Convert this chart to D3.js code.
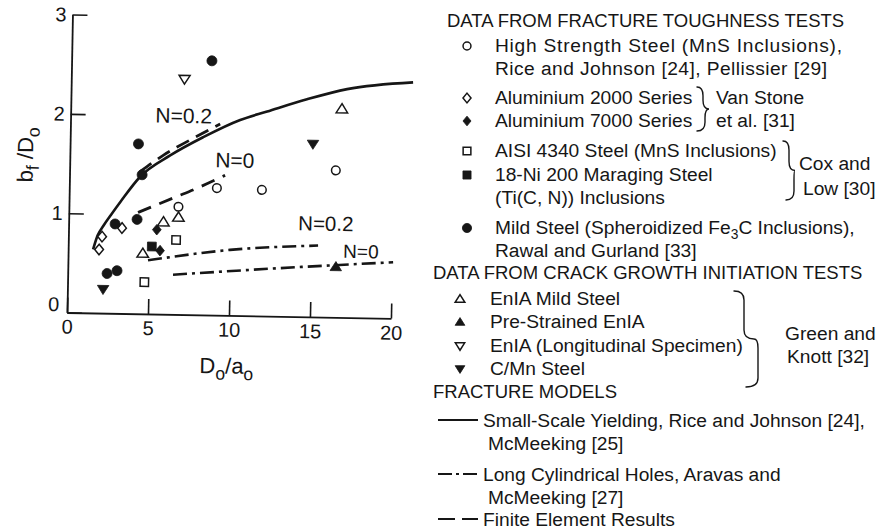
<!DOCTYPE html>
<html>
<head>
<meta charset="utf-8">
<script src="https://cdn.jsdelivr.net/npm/d3@7"></script>
<style>
  html, body { margin: 0; padding: 0; background: #fff; }
  svg { display: block; font-family: "Liberation Sans", Arial, Helvetica, sans-serif; }
</style>
</head>
<body>
<svg id="chart" width="881" height="532"></svg>
<script>
// ---- Data: void growth ratio b_f/D_o against D_o/a_o ----
const xTicks = [0, 5, 10, 15, 20];
const yTicks = [0, 1, 2, 3];

// Fracture toughness tests
const highStrengthX = [6.76, 9.11, 11.89, 16.43];
const highStrengthY = [1.085, 1.28, 1.27, 1.48];
const al2000X = [1.91, 2.08, 3.30];
const al2000Y = [0.64, 0.77, 0.86];
const al7000X = [5.45, 5.67];
const al7000Y = [0.85, 0.64];
const aisi4340X = [4.74, 6.65];
const aisi4340Y = [0.32, 0.75];
const maragingX = [5.16];
const maragingY = [0.68];
const mildSteelX = [2.43, 3.04, 2.87, 4.22, 4.48, 4.22, 8.66];
const mildSteelY = [0.40, 0.43, 0.90, 0.95, 1.40, 1.71, 2.56];

// Crack growth initiation tests
const en1aX = [4.61, 5.85, 6.77, 16.74];
const en1aY = [0.61, 0.93, 0.98, 2.10];
const preStrainedX = [16.54];
const preStrainedY = [0.51];
const longitudinalX = [6.99];
const longitudinalY = [2.37];
const cmnX = [2.20, 14.99];
const cmnY = [0.24, 1.74];

// Fracture models
const ssyX = [1.54, 1.80, 2.15, 2.60, 3.20, 4.36, 6.19, 8.21, 10.47, 12.13, 14.57, 17.04, 21.1];
const ssyY = [0.64, 0.78, 0.88, 0.99, 1.13, 1.38, 1.60, 1.79, 1.97, 2.06, 2.19, 2.30, 2.38];
const feN02X = [4.35, 5.76, 7.41, 9.24];
const feN02Y = [1.43, 1.60, 1.76, 1.925];
const feN0X = [4.27, 6.54, 7.95, 9.60];
const feN0Y = [1.02, 1.18, 1.28, 1.41];
const holesN02X = [4.94, 9.99, 15.42];
const holesN02Y = [0.54, 0.66, 0.72];
const holesN0X = [6.50, 13.1, 20.07];
const holesN0Y = [0.40, 0.486, 0.566];

// Texts
const xTitle = "D_{o}/a_{o}";
const yTitle = "b_{f} /D_{o}";
const heading1 = "DATA FROM FRACTURE TOUGHNESS TESTS";
const heading2 = "DATA FROM CRACK GROWTH INITIATION TESTS";
const heading3 = "FRACTURE MODELS";
const toughnessLabels = [
  ["High Strength Steel (MnS Inclusions),", "Rice and Johnson [24], Pellissier [29]"],
  ["Aluminium 2000 Series"],
  ["Aluminium 7000 Series"],
  ["AISI 4340 Steel (MnS Inclusions)"],
  ["18-Ni 200 Maraging Steel", "(Ti(C, N)) Inclusions"],
  ["Mild Steel (Spheroidized Fe_{3}C Inclusions),", "Rawal and Gurland [33]"]
];
const vanStone = ["Van Stone", "et al. [31]"];
const coxLow = ["Cox and", "Low [30]"];
const crackLabels = ["EnIA Mild Steel", "Pre-Strained EnIA", "EnIA (Longitudinal Specimen)", "C/Mn Steel"];
const greenKnott = ["Green and", "Knott [32]"];
const modelLabels = [
  ["Small-Scale Yielding, Rice and Johnson [24],", "McMeeking [25]"],
  ["Long Cylindrical Holes, Aravas and", "McMeeking [27]"],
  ["Finite Element Results"]
];
const curveTags = ["N=0.2", "N=0", "N=0.2", "N=0"];

// ---- Drawing ----
const INK = "#161616";
const svg = d3.select("#chart");
svg.append("rect").attr("width", 881).attr("height", 532).attr("fill", "#fff");

const ox = 67, oy = 312.5;
const x = d3.scaleLinear().domain([0, 20]).range([ox, ox + 324]);
const y = d3.scaleLinear().domain([0, 3]).range([oy, oy - 298]);

// marker shapes (size = half extent in px)
const shapes = {
  circle:   { draw(c, s) { c.moveTo(s, 0); c.arc(0, 0, s, 0, 2 * Math.PI); c.closePath(); } },
  diamond:  { draw(c, s) { c.moveTo(0, -s * 1.15); c.lineTo(s * 0.95, 0); c.lineTo(0, s * 1.15); c.lineTo(-s * 0.95, 0); c.closePath(); } },
  square:   { draw(c, s) { c.rect(-s, -s, 2 * s, 2 * s); } },
  triUp:    { draw(c, s) { c.moveTo(0, -s); c.lineTo(s * 1.1, s * 0.75); c.lineTo(-s * 1.1, s * 0.75); c.closePath(); } },
  triDown:  { draw(c, s) { c.moveTo(0, s); c.lineTo(s * 1.1, -s * 0.75); c.lineTo(-s * 1.1, -s * 0.75); c.closePath(); } }
};
const symbol = d3.symbol();

const series = [
  { xs: highStrengthX, ys: highStrengthY, shape: "circle", filled: false, r: 4.3 },
  { xs: al2000X, ys: al2000Y, shape: "diamond", filled: false, r: 4.6 },
  { xs: al7000X, ys: al7000Y, shape: "diamond", filled: true, r: 4.6 },
  { xs: aisi4340X, ys: aisi4340Y, shape: "square", filled: false, r: 4.2 },
  { xs: maragingX, ys: maragingY, shape: "square", filled: true, r: 4.4 },
  { xs: mildSteelX, ys: mildSteelY, shape: "circle", filled: true, r: 5 },
  { xs: en1aX, ys: en1aY, shape: "triUp", filled: false, r: 5.2 },
  { xs: preStrainedX, ys: preStrainedY, shape: "triUp", filled: true, r: 5.2 },
  { xs: longitudinalX, ys: longitudinalY, shape: "triDown", filled: false, r: 5 },
  { xs: cmnX, ys: cmnY, shape: "triDown", filled: true, r: 5.2 }
];

function styleMarker(sel, s) {
  sel.attr("fill", s.filled ? INK : "#fff")
     .attr("stroke", INK)
     .attr("stroke-width", s.filled ? 0.8 : 1.5)
     .attr("stroke-linejoin", "miter");
}

function richText(sel, str, fs, subScale) {
  const k = subScale || 0.72;
  const parts = str.split(/(_\{[^}]*\})/).filter(p => p.length);
  let shifted = false;
  parts.forEach(p => {
    if (p.startsWith("_{")) {
      sel.append("tspan").attr("font-size", fs * k).attr("dy", fs * 0.28).text(p.slice(2, -1));
      shifted = true;
    } else {
      const t = sel.append("tspan").text(p);
      if (shifted) { t.attr("dy", -fs * 0.28); shifted = false; }
    }
  });
  return sel;
}

function label(g, str, px, cy, fs, anchor, width) {
  const t = g.append("text")
    .attr("x", px).attr("y", cy + fs * 0.36)
    .attr("font-size", fs).attr("fill", INK)
    .attr("text-anchor", anchor || "start");
  if (width) t.attr("textLength", width).attr("lengthAdjust", "spacing");
  richText(t, str, fs);
  return t;
}

// ---- plot panel (slightly tilted, as printed) ----
const plot = svg.append("g").attr("transform", `rotate(1.05 ${ox} ${oy})`);

const xAxis = d3.axisBottom(x).tickValues(xTicks).tickFormat(d3.format("d"))
  .tickSizeInner(-15).tickSizeOuter(0).tickPadding(7);
const yAxis = d3.axisLeft(y).tickValues(yTicks).tickFormat(d3.format("d"))
  .tickSizeInner(-15).tickSizeOuter(0).tickPadding(6);

const gx = plot.append("g").attr("transform", `translate(0,${oy})`).call(xAxis);
const gy = plot.append("g").attr("transform", `translate(${ox},0)`).call(yAxis);
[gx, gy].forEach(g => {
  g.attr("font-family", null).attr("font-size", 20);
  g.select(".domain").attr("stroke", INK).attr("stroke-width", 1.8);
  g.selectAll(".tick line").attr("stroke", INK).attr("stroke-width", 1.6);
  g.selectAll(".tick text").attr("fill", INK);
});
gy.selectAll(".tick text").filter(d => d === 0).attr("dy", "-0.08em").attr("x", -8);

// axis titles
const xt = plot.append("text")
  .attr("x", x(9.9)).attr("y", oy + 58)
  .attr("font-size", 22).attr("fill", INK).attr("text-anchor", "middle");
richText(xt, xTitle, 22, 0.8);
const yt = plot.append("text")
  .attr("transform", `translate(${ox - 37},${y(1.58)}) rotate(-90)`)
  .attr("font-size", 22).attr("fill", INK).attr("text-anchor", "middle");
richText(yt, yTitle, 22, 0.8);

// model curves
const line = d3.line().x(d => x(d[0])).y(d => y(d[1]));
function curve(xs, ys, dash, width, kind) {
  const pts = xs.map((v, i) => [v, ys[i]]);
  plot.append("path")
    .attr("d", line.curve(kind)(pts))
    .attr("fill", "none").attr("stroke", INK)
    .attr("stroke-width", width)
    .attr("stroke-dasharray", dash)
    .attr("stroke-linecap", "butt");
}
curve(ssyX, ssyY, null, 2.6, d3.curveMonotoneX);
curve(feN02X, feN02Y, "14 8", 2.8, d3.curveMonotoneX);
curve(feN0X, feN0Y, "14 9", 2.8, d3.curveMonotoneX);
curve(holesN02X, holesN02Y, "14 5 3 5", 2.6, d3.curveMonotoneX);
curve(holesN0X, holesN0Y, "14 5 3 5", 2.6, d3.curveMonotoneX);

// data markers
series.forEach(s => {
  plot.append("g").selectAll("path")
    .data(s.xs.map((v, i) => [v, s.ys[i]]))
    .join("path")
    .attr("transform", d => `translate(${x(d[0])},${y(d[1])})`)
    .attr("d", symbol.type(shapes[s.shape]).size(s.r)())
    .call(styleMarker, s);
});

// curve tags
label(plot, curveTags[0], x(5.23), y(1.93) - 7.5, 21);
label(plot, curveTags[1], x(8.98), y(1.49) - 7.5, 21);
label(plot, curveTags[2], x(14.17), y(0.87) - 7.5, 20.5);
label(plot, curveTags[3], x(16.98), y(0.60) - 7, 19);

// ---- legend ----
const lg = svg.append("g");
const BODY = 19.2, HEAD = 18.5;

label(lg, heading1, 447, 20, HEAD);
const tRows = [[45, 68], [97], [120], [150], [174, 197], [227, 250]];
const tWidths = [[347, 332], [null], [null], [null], [null, null], [null, null]];
toughnessLabels.forEach((lines, i) => {
  const s = series[i];
  lg.append("path")
    .attr("transform", `translate(467,${tRows[i][0] + 1})`)
    .attr("d", symbol.type(shapes[s.shape]).size(s.r * 0.92)())
    .call(styleMarker, s);
  lines.forEach((ln, j) => label(lg, ln, 495, tRows[i][j], BODY, "start", tWidths[i][j]));
});

label(lg, heading2, 433, 272, HEAD);
const cRows = [298, 321, 345, 368];
crackLabels.forEach((ln, i) => {
  const s = series[6 + i];
  lg.append("path")
    .attr("transform", `translate(460,${cRows[i] + 1})`)
    .attr("d", symbol.type(shapes[s.shape]).size(s.r * 0.85)())
    .call(styleMarker, s);
  label(lg, ln, 490, cRows[i], BODY);
});

label(lg, heading3, 433, 391, HEAD);
const mRows = [[420, 443], [474, 497], [519]];
const mDash = [null, "14 4 3 4", "17 7"];
modelLabels.forEach((lines, i) => {
  lg.append("path")
    .attr("d", `M438,${mRows[i][0]}H478`)
    .attr("stroke", INK).attr("stroke-width", 2.2)
    .attr("stroke-dasharray", mDash[i]).attr("fill", "none");
  lines.forEach((ln, j) => label(lg, ln, j === 0 ? 483 : 488, mRows[i][j], BODY));
});

// hand-drawn style braces: upper half, cusp, lower half shifted by `skew`
function brace(x0, y1, y2, w, skew) {
  const ym = (y1 + y2) / 2, r = Math.min(9, (y2 - y1) / 5);
  const xa = x0 + w, xb = x0 + w + skew;
  const p = `M${x0},${y1} Q${xa},${y1} ${xa},${y1 + r} L${xa},${ym - r} ` +
            `Q${xa},${ym} ${xa + w},${ym} ` +
            `Q${xb},${ym} ${xb},${ym + r} L${xb},${y2 - r} Q${xb},${y2} ${xb - w - 2},${y2}`;
  lg.append("path").attr("d", p).attr("fill", "none").attr("stroke", INK)
    .attr("stroke-width", 1.4).attr("stroke-linecap", "round");
}
brace(697, 87, 131, 6, 2);
label(lg, vanStone[0], 716, 97, BODY);
label(lg, vanStone[1], 716, 120, BODY);
brace(783, 141, 200, 6, 5);
label(lg, coxLow[0], 799, 163, BODY);
label(lg, coxLow[1], 803, 188, BODY);
brace(734, 291, 387, 10, 14);
label(lg, greenKnott[0], 785, 333, BODY);
label(lg, greenKnott[1], 787, 356, BODY);
</script>
</body>
</html>
